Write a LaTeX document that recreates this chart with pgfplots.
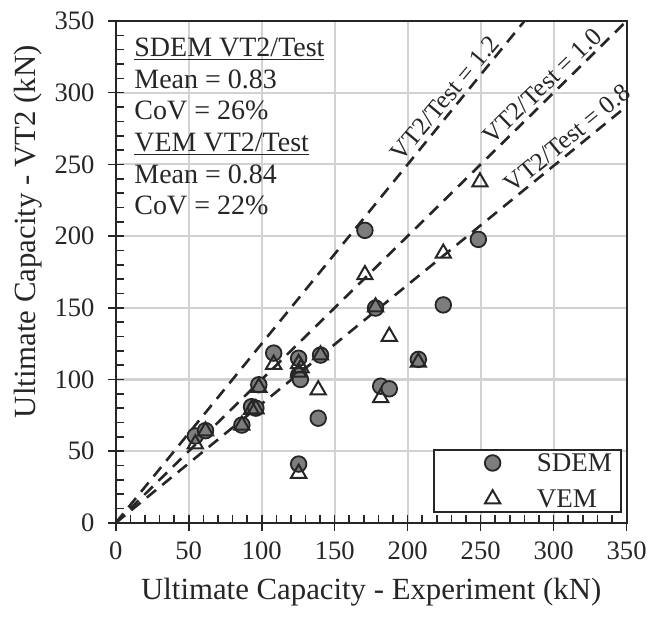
\documentclass[border=0pt]{standalone}
\usepackage{fontspec}
\setmainfont{Liberation Serif}
\usepackage{pgfplots}
\pgfplotsset{compat=1.18}

\definecolor{inkc}{HTML}{262626}
\definecolor{dotfill}{HTML}{7D7D7D}
\definecolor{gridc}{HTML}{D2D2D2}

% legend key: blank spacer box (white on the white legend) and the mark
\pgfplotsset{
  keyimg/.style={legend image code/.code={%
    \draw[white, line width=0.1pt] (0pt,-2pt) rectangle (47.1pt,2pt);
    \draw[##1] plot coordinates {(26pt,0pt)};}},
}

\begin{document}
\begin{tikzpicture}
\path[use as bounding box] (-57.9pt,-47.5pt) rectangle (268.2pt,261.5pt);
\begin{axis}[
  at={(0pt,0pt)}, anchor=south west,
  scale only axis, width=255.5pt, height=251pt,
  xmin=0, xmax=350, ymin=0, ymax=350,
  xtick={0,50,...,350}, ytick={0,50,...,350},
  minor tick num=4,
  tick pos=left,
  tick align=inside,
  major tick length=8pt, minor tick length=4pt,
  major x tick style={yshift=-4pt}, major y tick style={xshift=-4pt},
  tick style={inkc, line width=0.8pt},
  axis line style={inkc, line width=1pt},
  grid=major,
  major grid style={draw=gridc, line width=1.1pt},
  /pgf/number format/assume math mode=true,
  ticklabel style={text=inkc, font=\fontsize{13.3}{15}\selectfont},
  xticklabel style={yshift=-6.1pt},
  yticklabel style={xshift=-7.1pt},
  label style={text=inkc, font=\fontsize{15.4}{18}\selectfont},
  xlabel={Ultimate Capacity - Experiment (kN)},
  ylabel={Ultimate Capacity - VT2 (kN)},
  xlabel style={at={(axis description cs:0.5,-0.1375)}, anchor=center},
  ylabel style={at={(axis description cs:-0.172,0.58)}, anchor=center},
  legend cell align=left,
  legend style={at={(axis description cs:1,0)}, anchor=south east,
    xshift=-2.5pt, yshift=5pt, draw=inkc, line width=0.9pt, fill=white,
    inner xsep=3.4pt, inner ysep=1pt, row sep=7pt, column sep=0pt,
    font=\fontsize{13.5}{16}\selectfont, text=inkc,
    nodes={inner xsep=1pt, inner ysep=1pt, text height=9pt, text depth=0pt}},
  clip=false,
]
% reference lines VT2/Test
\addplot[inkc, line width=1.3pt, dash pattern=on 6pt off 4pt, forget plot]
  coordinates {(0,0) (280,350)};
\addplot[inkc, line width=1.3pt, dash pattern=on 6pt off 4pt, forget plot]
  coordinates {(0,0) (350,350)};
\addplot[inkc, line width=1.3pt, dash pattern=on 6pt off 4pt, forget plot]
  coordinates {(0,0) (350,290.5)};

% SDEM
\addplot[only marks, mark=*, mark size=3.9pt,
  mark options={fill=dotfill, draw=inkc, line width=0.9pt}, keyimg]
  coordinates {
    (54.5,60.6) (61.5,64.3) (86.4,68.2) (93.0,81.0) (96.0,80.0)
    (98.0,96.3) (108.2,118.4) (125.3,114.8) (125.3,103.0) (126.5,100.0)
    (140.3,117.0) (138.7,73.0) (125.3,41.0) (181.5,95.3) (187.4,93.5)
    (207.3,114.0) (170.7,204.0) (248.4,197.7) (224.4,152.0) (178.0,149.8)
  };
\addlegendentry{SDEM}

% VEM
\addplot[only marks, mark=triangle, mark size=4.4pt,
  mark options={draw=inkc, line width=1pt, fill=none}, keyimg]
  coordinates {
    (54.5,55.0) (61.5,64.0) (86.4,68.0) (93.0,79.0) (96.0,79.5)
    (98.0,94.5) (108.2,110.5) (125.3,111.0) (125.3,105.0) (127.0,108.0)
    (140.3,117.0) (138.7,92.7) (125.3,34.5) (181.5,87.3) (207.3,112.0)
    (170.7,173.0) (249.5,237.7) (224.4,188.0) (178.0,150.5) (187.4,130.0)
  };
\addlegendentry{VEM}

% line labels
\node[rotate=50, text=inkc, font=\fontsize{12.7}{14}\selectfont] at (axis cs:225.5,296.2) {VT2/Test = 1.2};
\node[rotate=44, text=inkc, font=\fontsize{12.7}{14}\selectfont] at (axis cs:292.2,304.7) {VT2/Test = 1.0};
\node[rotate=39.5, text=inkc, font=\fontsize{12.7}{14}\selectfont] at (axis cs:309.3,268.3) {VT2/Test = 0.8};

% statistics box
\begin{scope}[every node/.style={anchor=base west, inner sep=0pt, text=inkc, font=\fontsize{14}{16}\selectfont}]
\node at (axis cs:12.5,325.2) {\underline{SDEM VT2/Test}};
\node at (axis cs:12.5,303.2) {Mean = 0.83};
\node at (axis cs:12.5,281.1) {CoV = 26\%};
\node at (axis cs:12.5,259.0) {\underline{VEM VT2/Test}};
\node at (axis cs:12.5,237.0) {Mean = 0.84};
\node at (axis cs:12.5,214.9) {CoV = 22\%};
\end{scope}
\end{axis}
\end{tikzpicture}
\end{document}
